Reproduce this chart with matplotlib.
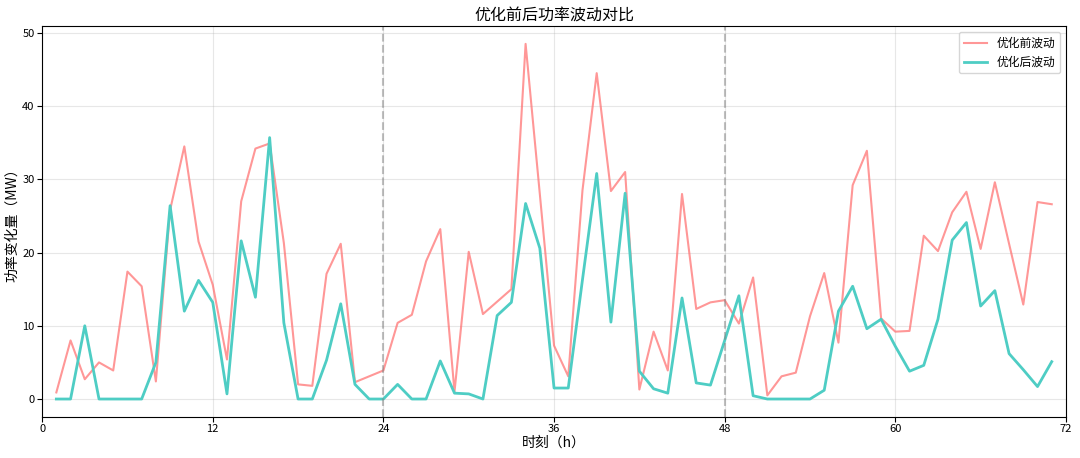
import matplotlib
matplotlib.use('Agg')
import matplotlib.pyplot as plt

plt.rcParams['font.family'] = ['Noto Sans CJK SC', 'DejaVu Sans']
plt.rcParams['axes.unicode_minus'] = False

# hourly values, hours 1..71
hours = list(range(1, 72))
before = [0.9, 8.0, 2.7, 5.0, 3.9, 17.4, 15.4, 2.4, 25.8, 34.5,
          21.5, 15.6, 5.4, 27.0, 34.2, 34.9, 21.3, 2.0, 1.8, 17.1,
          21.2, 2.3, 3.1, 3.9, 10.4, 11.5, 18.8, 23.2, 1.0, 20.1,
          11.6, 13.3, 15.0, 48.5, 28.0, 7.3, 3.1, 28.5, 44.5, 28.4,
          31.0, 1.3, 9.2, 3.9, 28.0, 12.3, 13.2, 13.5, 10.3, 16.6,
          0.5, 3.1, 3.6, 11.3, 17.2, 7.7, 29.2, 33.9, 11.0, 9.2,
          9.3, 22.3, 20.2, 25.5, 28.3, 20.5, 29.6, 21.2, 12.9, 26.9,
          26.6]
after = [0.0, 0.0, 10.0, 0.0, 0.0, 0.0, 0.0, 5.0, 26.4, 12.0,
         16.2, 13.2, 0.7, 21.6, 13.9, 35.7, 10.4, 0.0, 0.0, 5.3,
         13.0, 2.0, 0.0, 0.0, 2.0, 0.0, 0.0, 5.2, 0.8, 0.7,
         0.0, 11.4, 13.2, 26.7, 20.6, 1.5, 1.5, 16.3, 30.8, 10.5,
         28.1, 3.8, 1.4, 0.8, 13.8, 2.2, 1.9, 8.0, 14.1, 0.45,
         0.0, 0.0, 0.0, 0.0, 1.2, 12.0, 15.4, 9.6, 10.9, 7.2,
         3.8, 4.6, 10.9, 21.7, 24.1, 12.7, 14.8, 6.2, 4.0, 1.7,
         5.1]
day_marks = [24, 48]

fig, ax = plt.subplots(figsize=(10.8, 4.58), dpi=100)
fig.subplots_adjust(left=0.039, right=0.987, top=0.943, bottom=0.09)

ax.plot(hours, before, color='#FF6B6B', alpha=0.7, linewidth=1.5, label='优化前波动')
ax.plot(hours, after, color='#4ECDC4', linewidth=2, label='优化后波动')
for d in day_marks:
    ax.axvline(d, color='gray', linestyle='--', alpha=0.5, linewidth=1.5)

ax.set_xlim(0, 72)
ax.set_xticks(range(0, 73, 12))
ax.set_title('优化前后功率波动对比', fontsize=11.5, pad=4)
ax.set_xlabel('时刻（h）', fontsize=10, labelpad=1)
ax.set_ylabel('功率变化量（MW）', fontsize=10, labelpad=2)
ax.tick_params(labelsize=8, pad=2)
ax.grid(True, alpha=0.3)
ax.legend(loc='upper right', fontsize=8.5)

plt.savefig('out.png')
